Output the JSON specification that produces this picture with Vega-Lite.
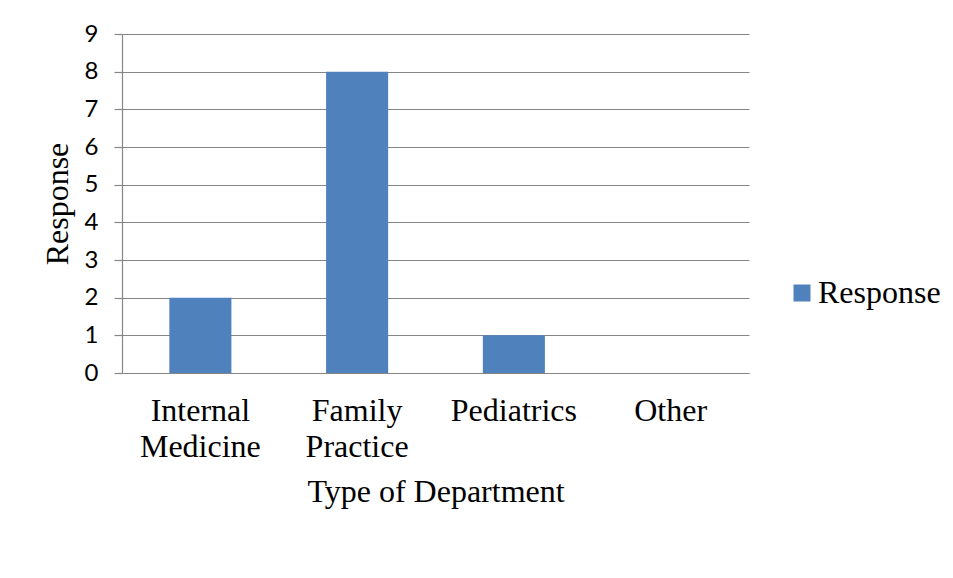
{
  "$schema": "https://vega.github.io/schema/vega-lite/v6.json",
  "autosize": "none",
  "width": 627,
  "height": 339,
  "padding": {"left": 122, "top": 34, "right": 204, "bottom": 205},
  "background": "white",
  "data": {
    "values": [
      {"department": "Internal Medicine", "response": 2, "series": "Response"},
      {"department": "Family Practice", "response": 8, "series": "Response"},
      {"department": "Pediatrics", "response": 1, "series": "Response"},
      {"department": "Other", "response": 0, "series": "Response"}
    ]
  },
  "mark": {"type": "bar"},
  "encoding": {
    "x": {
      "field": "department",
      "type": "nominal",
      "sort": null,
      "scale": {"paddingInner": 0.604, "paddingOuter": 0.302},
      "axis": {
        "title": "Type of Department",
        "labelAngle": 0,
        "labelExpr": "datum.label == 'Internal Medicine' ? ['Internal', 'Medicine'] : datum.label == 'Family Practice' ? ['Family', 'Practice'] : datum.label",
        "labelFont": "Liberation Serif",
        "labelFontSize": 32,
        "labelColor": "black",
        "labelLineHeight": 36,
        "labelPadding": 22,
        "labelBaseline": "top",
        "ticks": false,
        "domain": true,
        "domainColor": "#868686",
        "titleFont": "Liberation Serif",
        "titleFontSize": 32,
        "titleFontWeight": "normal",
        "titleColor": "black",
        "titlePadding": 14
      }
    },
    "y": {
      "field": "response",
      "type": "quantitative",
      "scale": {"domain": [0, 9]},
      "axis": {
        "title": "Response",
        "values": [0, 1, 2, 3, 4, 5, 6, 7, 8, 9],
        "labelFont": "Lato",
        "labelFontSize": 24,
        "labelColor": "black",
        "labelPadding": 16,
        "tickSize": 8,
        "tickColor": "#868686",
        "domainColor": "#868686",
        "grid": true,
        "gridColor": "#868686",
        "titleFont": "Liberation Serif",
        "titleFontSize": 32,
        "titleFontWeight": "normal",
        "titleColor": "black",
        "titlePadding": 10
      }
    },
    "color": {
      "field": "series",
      "type": "nominal",
      "scale": {"range": ["#4F81BD"]},
      "legend": {
        "title": null,
        "orient": "none",
        "legendX": 664,
        "legendY": 243,
        "padding": 0,
        "symbolType": "square",
        "symbolSize": 289,
        "symbolStrokeWidth": 0,
        "labelFont": "Liberation Serif",
        "labelFontSize": 32,
        "labelColor": "black",
        "labelOffset": 0,
        "labelLimit": 300
      }
    }
  },
  "config": {
    "view": {"stroke": null},
    "axis": {"gridWidth": 1.2, "domainWidth": 1.2, "tickWidth": 1.2}
  }
}
